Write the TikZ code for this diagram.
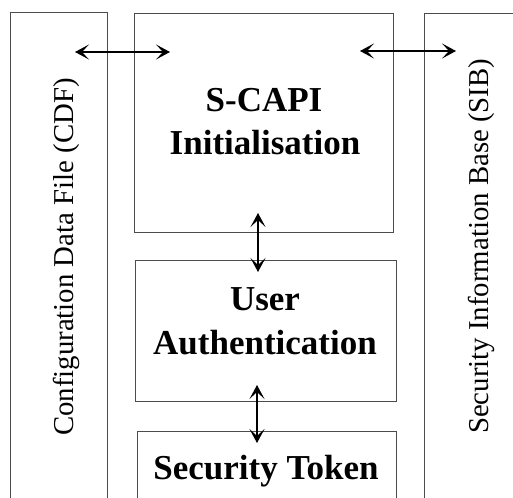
\documentclass[tikz,border=0pt]{standalone}
\usepackage{fontspec}
\setmainfont{Liberation Serif}
\usetikzlibrary{arrows.meta,calc}

\tikzset{
  frame/.style={draw=black!70, line width=1pt},
  blockbox/.style={frame, rectangle, inner sep=0pt},
  boldlabel/.style={font=\fontsize{35}{35}\selectfont\bfseries, inner sep=0pt, anchor=base},
  sidelabel/.style={font=\fontsize{28.8}{30}\selectfont, inner sep=0pt, rotate=90, anchor=base west},
  link/.style={draw=black, line width=1.1pt,
    {Stealth[length=14pt,width=15pt,inset=7pt]}-{Stealth[length=14pt,width=15pt,inset=7pt]}}
}

\begin{document}
\begin{tikzpicture}[x=1pt,y=-1pt]
  \useasboundingbox (0,0) rectangle (513,497);
  \clip (0,0) rectangle (513,497);
  \fill[white] (0,0) rectangle (513,497);

  % side stores, open at the bottom
  \node[blockbox, minimum width=97pt, minimum height=520pt, anchor=north west] (cdf) at (10,12) {};
  \node[blockbox, minimum width=120pt, minimum height=520pt, anchor=north west] (sib) at (424,13) {};
  \node[sidelabel] (cdftext) at (73,436) {Configuration Data File (CDF)};
  \node[sidelabel] (sibtext) at (488,434) {Security Information Base (SIB)};

  % processing blocks
  \node[blockbox, minimum width=259pt, minimum height=219pt, anchor=north west] (init) at (134,13) {};
  \node[blockbox, minimum width=261pt, minimum height=141pt, anchor=north west] (auth) at (135,260) {};
  \node[blockbox, minimum width=259pt, minimum height=100pt, anchor=north west] (token) at (137,431) {};

  \node[boldlabel] (initA) at (264,112) {S-CAPI};
  \node[boldlabel] (initB) at (265,154) {Initialisation};
  \node[boldlabel] (authA) at (265,310) {User};
  \node[boldlabel] (authB) at (265,354) {Authentication};
  \node[boldlabel] (tokenA) at (266,479) {Security Token};

  % arrow end points
  \coordinate (cdfin) at (75,52);
  \coordinate (initl) at (170,52);
  \coordinate (initr) at (360,51);
  \coordinate (sibin) at (456,51);
  \coordinate (initlow) at (258,213);
  \coordinate (authtop) at (258,272);
  \coordinate (authlow) at (257,385);
  \coordinate (tokentop) at (257,443);

  \draw[link] (cdfin) -- (initl);
  \draw[link] (initr) -- (sibin);
  \draw[link] (initlow) -- (authtop);
  \draw[link] (authlow) -- (tokentop);
\end{tikzpicture}
\end{document}
